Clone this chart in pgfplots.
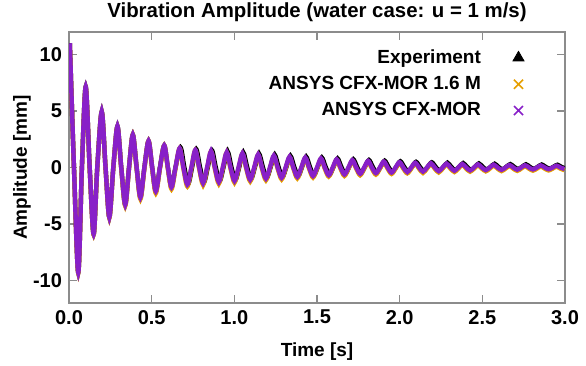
\documentclass[border=0pt]{standalone}
\usepackage{fontspec}
\setmainfont{Liberation Sans}
\usepackage{pgfplots}
\usepackage{pgfplotstable}
\pgfplotsset{compat=1.18}
\definecolor{mor}{HTML}{8820C8}
\definecolor{mos}{HTML}{E69F00}
\definecolor{axgray}{RGB}{140,140,140}
\pgfplotstableread{
t mor m16 te ex
0.005 11.0 10.95 0.005 11.0
0.030 0 -0.05 0.030 0
0.056 -9.3 -9.35 0.056 -9.3
0.078 0 -0.05 0.078 0
0.101 7.15 7.1 0.101 7.15
0.125 0 -0.05 0.125 0
0.149 -5.9 -5.95 0.149 -5.9
0.171 0 -0.05 0.171 0
0.198 4.95 4.9 0.198 4.95
0.221 0 -0.05 0.221 0
0.244 -4.4 -4.45 0.244 -4.4
0.268 0 -0.05 0.268 0
0.293 3.65 3.6 0.293 3.65
0.316 0 -0.08 0.316 0
0.340 -3.3 -3.4 0.340 -3.3
0.363 0 -0.08 0.363 0
0.386 2.9 2.9 0.386 2.9
0.409 0 -0.1 0.409 0
0.432 -2.65 -2.8 0.432 -2.65
0.456 0 -0.1 0.456 0
0.481 2.35 2.35 0.481 2.35
0.503 0 -0.1 0.503 0
0.525 -2.1 -2.28 0.525 -2.1
0.550 0 -0.1 0.550 0
0.576 1.95 1.95 0.576 1.95
0.598 0 -0.1 0.598 0
0.620 -1.75 -1.92 0.620 -1.75
0.644 0 -0.1 0.644 0
0.669 1.7 1.69 0.674 1.78
0.692 0 -0.1 0.697 0.06
0.716 -1.5 -1.68 0.721 -1.45
0.740 0 -0.1 0.745 0.06
0.764 1.55 1.53 0.769 1.63
0.787 0 -0.1 0.792 0.06
0.811 -1.38 -1.55 0.816 -1.33
0.835 0 -0.1 0.840 0.06
0.859 1.45 1.42 0.864 1.53
0.882 0 -0.1 0.887 0.06
0.906 -1.28 -1.44 0.911 -1.23
0.930 0 -0.1 0.935 0.06
0.954 1.35 1.32 0.959 1.43
0.977 0 -0.1 0.982 0.06
1.001 -1.18 -1.34 1.006 -1.13
1.025 0 -0.1 1.030 0.06
1.049 1.25 1.21 1.054 1.33
1.072 0 -0.1 1.077 0.06
1.096 -1.08 -1.23 1.101 -1.03
1.120 0 -0.1 1.125 0.06
1.144 1.15 1.11 1.149 1.23
1.167 0 -0.1 1.172 0.06
1.191 -0.98 -1.13 1.196 -0.93
1.215 0 -0.1 1.220 0.06
1.239 1.05 1.0 1.244 1.13
1.262 0 -0.1 1.267 0.06
1.286 -0.9 -1.05 1.291 -0.85
1.310 0 -0.1 1.315 0.06
1.334 0.95 0.9 1.339 1.03
1.357 0 -0.1 1.362 0.06
1.381 -0.82 -0.96 1.386 -0.77
1.405 0 -0.1 1.410 0.06
1.429 0.88 0.82 1.434 0.96
1.452 0 -0.1 1.457 0.06
1.476 -0.75 -0.89 1.481 -0.70
1.500 0 -0.1 1.505 0.06
1.524 0.8 0.74 1.529 0.88
1.547 0 -0.1 1.552 0.06
1.571 -0.68 -0.81 1.576 -0.63
1.595 0 -0.1 1.600 0.06
1.619 0.72 0.66 1.624 0.80
1.642 0 -0.1 1.647 0.06
1.666 -0.62 -0.75 1.671 -0.57
1.690 0 -0.1 1.695 0.06
1.714 0.65 0.58 1.719 0.73
1.737 0 -0.1 1.742 0.06
1.761 -0.56 -0.69 1.766 -0.51
1.785 0 -0.1 1.790 0.06
1.809 0.58 0.51 1.814 0.66
1.832 0 -0.1 1.837 0.06
1.856 -0.5 -0.63 1.861 -0.45
1.880 0 -0.1 1.885 0.06
1.904 0.52 0.45 1.909 0.60
1.927 0 -0.1 1.932 0.06
1.951 -0.45 -0.57 1.956 -0.40
1.975 0 -0.1 1.980 0.06
1.999 0.47 0.39 2.004 0.55
2.022 0 -0.1 2.027 0.06
2.046 -0.4 -0.52 2.051 -0.35
2.070 0 -0.1 2.075 0.06
2.094 0.42 0.34 2.099 0.50
2.117 0 -0.1 2.122 0.06
2.141 -0.36 -0.48 2.146 -0.31
2.165 0 -0.1 2.170 0.06
2.189 0.38 0.3 2.194 0.46
2.212 0 -0.1 2.217 0.06
2.236 -0.32 -0.44 2.241 -0.27
2.260 0 -0.1 2.265 0.06
2.284 0.34 0.26 2.289 0.42
2.307 0 -0.1 2.312 0.06
2.331 -0.29 -0.4 2.336 -0.24
2.355 0 -0.1 2.360 0.06
2.379 0.31 0.23 2.384 0.39
2.402 0 -0.1 2.407 0.06
2.426 -0.26 -0.37 2.431 -0.21
2.450 0 -0.1 2.455 0.06
2.474 0.28 0.19 2.479 0.36
2.497 0 -0.1 2.502 0.06
2.521 -0.23 -0.34 2.526 -0.18
2.545 0 -0.1 2.550 0.06
2.569 0.25 0.16 2.574 0.33
2.592 0 -0.1 2.597 0.06
2.616 -0.21 -0.32 2.621 -0.16
2.640 0 -0.1 2.645 0.06
2.664 0.22 0.13 2.669 0.30
2.687 0 -0.1 2.692 0.06
2.711 -0.19 -0.3 2.716 -0.14
2.735 0 -0.1 2.740 0.06
2.759 0.2 0.11 2.764 0.28
2.782 0 -0.1 2.787 0.06
2.806 -0.17 -0.28 2.811 -0.12
2.830 0 -0.1 2.835 0.06
2.854 0.18 0.09 2.859 0.26
2.877 0 -0.1 2.882 0.06
2.901 -0.15 -0.26 2.906 -0.10
2.925 0 -0.1 2.930 0.06
2.949 0.16 0.07 2.954 0.24
2.972 0 -0.1 2.977 0.06
2.996 -0.13 -0.24 3.001 -0.08
}\datatable
\begin{document}
\begin{tikzpicture}[font=\fontsize{9.5}{11}\selectfont\bfseries]
\begin{axis}[
  scale only axis,
  width=248pt, height=135.5pt,
  xmin=0, xmax=3.0, ymin=-12, ymax=12,
  xtick={0,0.5,1.0,1.5,2.0,2.5,3.0},
  ytick={-10,-5,0,5,10},
  xticklabel style={/pgf/number format/.cd,fixed,fixed zerofill,precision=1},
  /pgf/number format/assume math mode=true,
  ticklabel style={font=\fontsize{10}{12}\selectfont\bfseries, black},
  tick align=inside,
  major tick length=4pt,
  every tick/.style={axgray, line width=0.6pt},
  axis line style={axgray, line width=0.6pt},
  title={Vibration Amplitude (water case: u = 1 m/s)},
  title style={at={(axis description cs:0.5,1.03)}, anchor=center, font=\fontsize{10.2}{12}\selectfont\bfseries},
  xlabel={Time [s]},
  ylabel={Amplitude [mm]},
  xlabel style={at={(axis description cs:0.5,-0.181)}, anchor=center},
  ylabel style={at={(axis description cs:-0.095,0.5)}, anchor=center},
  legend style={draw=none, fill=none, at={(1,1)}, anchor=north east,
    xshift=-15.5pt, yshift=-4.5pt,
    cells={anchor=east}, row sep=1pt, font=\fontsize{9.5}{11}\selectfont\bfseries},
  legend plot pos=right,
  legend image code/.code={\path[draw=none,fill=none] (0,-0.05cm) rectangle (0.75cm,0.05cm); \draw[#1] plot coordinates {(0.59cm,0cm)};},
]
\addplot[black, line width=2.2pt, smooth, forget plot] table[x=te, y=ex] {\datatable};
\addplot[mos, line width=2.2pt, smooth, forget plot] table[x=t, y=m16] {\datatable};
\addplot[mor, line width=2.2pt, smooth, forget plot] table[x=t, y=mor] {\datatable};
\addlegendimage{only marks, mark=triangle*, mark size=3.2pt, black}
\addlegendentry{Experiment}
\addlegendimage{only marks, mark=x, mark size=3.2pt, mos, line width=0.8pt}
\addlegendentry{ANSYS CFX-MOR 1.6 M}
\addlegendimage{only marks, mark=x, mark size=3.2pt, mor, line width=0.8pt}
\addlegendentry{ANSYS CFX-MOR}
\end{axis}
\pgfresetboundingbox
\path[use as bounding box] ([shift={(-34.5pt,-31.5pt)}]current axis.south west) rectangle ([shift={(10.5pt,16pt)}]current axis.north east);
\end{tikzpicture}
\end{document}
